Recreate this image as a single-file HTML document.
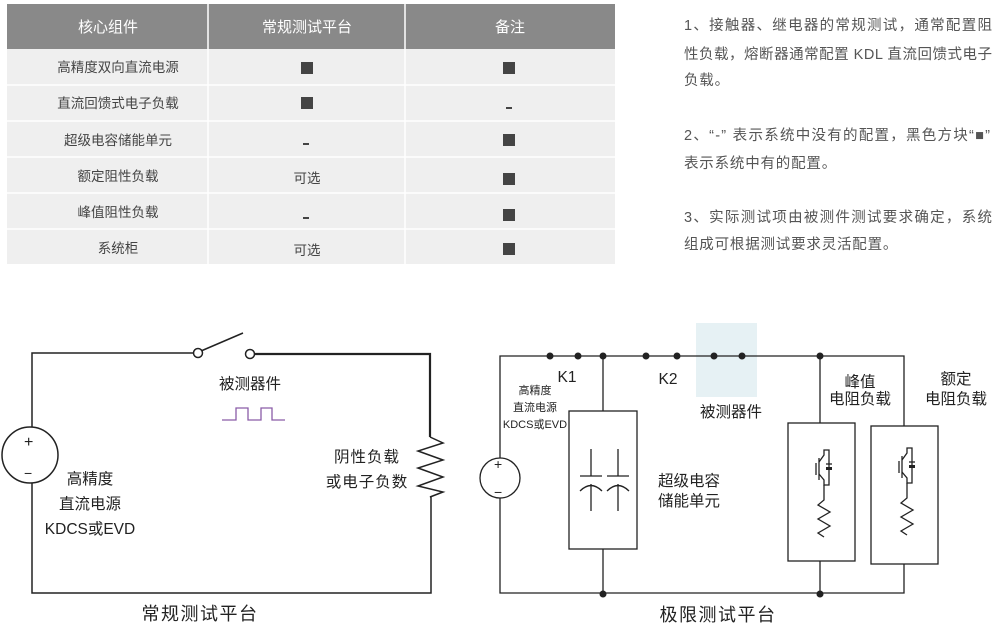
<!DOCTYPE html>
<html><head><meta charset="utf-8"><style>
body{margin:0;background:#fff;width:1000px;height:636px;overflow:hidden;font-family:"Liberation Sans","Noto Sans CJK SC",sans-serif;}
</style></head><body>
<svg width="1000" height="636" xmlns="http://www.w3.org/2000/svg" font-family="Liberation Sans, Noto Sans CJK SC, sans-serif">
<!-- table -->
<rect x="7" y="4" width="608" height="45" fill="#898989"/>
<rect x="7" y="49" width="608" height="215" fill="#efefef"/>
<g stroke="#fff" stroke-width="1.5">
<line x1="208" y1="4" x2="208" y2="264"/><line x1="405" y1="4" x2="405" y2="264"/>
<line x1="7" y1="85" x2="615" y2="85"/><line x1="7" y1="121" x2="615" y2="121"/><line x1="7" y1="157" x2="615" y2="157"/><line x1="7" y1="193" x2="615" y2="193"/><line x1="7" y1="229" x2="615" y2="229"/>
</g>
<g font-size="15" fill="#fff" text-anchor="middle"><text x="108" y="32">核心组件</text><text x="307" y="32">常规测试平台</text><text x="510" y="32">备注</text></g>
<g font-size="13.5" fill="#444" text-anchor="middle">
<text x="118" y="72">高精度双向直流电源</text><text x="118" y="108">直流回馈式电子负载</text><text x="118" y="145">超级电容储能单元</text><text x="118" y="181">额定阻性负载</text><text x="118" y="217">峰值阻性负载</text><text x="118" y="253">系统柜</text>
<text x="307" y="183">可选</text><text x="307" y="255">可选</text>
</g>
<g fill="#444"><rect x="303" y="143" width="6" height="2"/><rect x="303" y="217" width="6" height="2"/><rect x="506" y="107" width="6" height="2"/></g>
<g fill="#444"><rect x="301" y="62" width="12" height="12"/><rect x="301" y="97" width="12" height="12"/><rect x="503" y="62" width="12" height="12"/><rect x="503" y="134" width="12" height="12"/><rect x="503" y="173" width="12" height="12"/><rect x="503" y="209" width="12" height="12"/><rect x="503" y="243" width="12" height="12"/></g>
<!-- notes -->
<g font-size="14.5" fill="#555" letter-spacing="0.8">
<text x="684" y="30" textLength="308" lengthAdjust="spacing" letter-spacing="0">1、接触器、继电器的常规测试，通常配置阻</text>
<text x="684" y="59" textLength="308" lengthAdjust="spacing" letter-spacing="0">性负载，熔断器通常配置 KDL 直流回馈式电子</text>
<text x="684" y="85">负载。</text>
<text x="684" y="140" textLength="306" lengthAdjust="spacing" letter-spacing="0">2、“-” 表示系统中没有的配置，黑色方块“■”</text>
<text x="684" y="168">表示系统中有的配置。</text>
<text x="684" y="222" textLength="308" lengthAdjust="spacing" letter-spacing="0">3、实际测试项由被测件测试要求确定，系统</text>
<text x="684" y="249">组成可根据测试要求灵活配置。</text>
</g>
<!-- left circuit -->
<g stroke="#222" stroke-width="1.5" fill="none">
<polyline points="32,427 32,353 194,353"/>
<line x1="201" y1="351" x2="243" y2="333"/>
<polyline points="254,354 430,354 430,437" stroke-width="2.2"/>
<polyline points="430,437 443,443 418,451 443,460 418,468 443,477 418,486 443,492 430,497 431,497 431,593 32,593 32,483"/>
<circle cx="30" cy="455" r="28"/>
<circle cx="198" cy="353" r="4.5" fill="#fff"/><circle cx="250" cy="354" r="4.5" fill="#fff"/>
</g>
<polyline points="222,420 236,420 236,408 248,408 248,420 261,420 261,408 272,408 272,420 285,420" stroke="#8a5ca8" stroke-width="1.3" fill="none"/>
<g fill="#222" font-size="16"><text x="24" y="447">+</text><text x="24" y="478" font-size="14">−</text></g>
<g font-size="15.5" fill="#222" text-anchor="middle">
<text x="250" y="389">被测器件</text>
<text x="90" y="484">高精度</text><text x="90" y="509">直流电源</text><text x="90" y="534">KDCS或EVD</text>
<text x="367" y="462" letter-spacing="1">阴性负载</text><text x="367" y="487" letter-spacing="1">或电子负数</text>
<text x="200" y="620" font-size="18" letter-spacing="1.5">常规测试平台</text>
</g>
<!-- right circuit -->
<rect x="696" y="323" width="61" height="74" fill="#e6f1f4"/>
<g stroke="#222" stroke-width="1.3" fill="none">
<polyline points="500,458 500,356 904,356 904,426"/>
<polyline points="500,498 500,593 904,593 904,564"/>
<line x1="603" y1="356" x2="603" y2="411"/><line x1="603" y1="549" x2="603" y2="593"/>
<line x1="820" y1="356" x2="820" y2="423"/><line x1="820" y1="561" x2="820" y2="593"/>
<rect x="569" y="411" width="68" height="138"/>
<rect x="788" y="423" width="67" height="138"/>
<rect x="871" y="426" width="67" height="138"/>
<circle cx="500" cy="478" r="20"/>
<line x1="591" y1="449" x2="591" y2="476"/><line x1="580" y1="476" x2="602" y2="476"/><path d="M580,491 Q591,480 602,491"/><line x1="591" y1="484" x2="591" y2="511"/>
<line x1="618" y1="449" x2="618" y2="476"/><line x1="607" y1="476" x2="629" y2="476"/><path d="M607,491 Q618,480 629,491"/><line x1="618" y1="484" x2="618" y2="511"/>
<g>
<line x1="816" y1="463" x2="816" y2="475"/><polyline points="819,458 819,480"/><polyline points="819,462 824,455 824,450 829,450 829,485 824,485 824,480 819,474"/>
<line x1="826" y1="464" x2="832" y2="464"/>
<polyline points="824,485 824,500 818,505 830,512 818,519 830,526 818,533 824,537"/>
</g>
<g transform="translate(83,-2)">
<line x1="816" y1="463" x2="816" y2="475"/><polyline points="819,458 819,480"/><polyline points="819,462 824,455 824,450 829,450 829,485 824,485 824,480 819,474"/>
<line x1="826" y1="464" x2="832" y2="464"/>
<polyline points="824,485 824,500 818,505 830,512 818,519 830,526 818,533 824,537"/>
</g>
</g>
<rect x="826" y="467" width="6" height="3" fill="#222"/><rect x="909" y="465" width="6" height="3" fill="#222"/>
<g fill="#222"><circle cx="550" cy="356" r="3.5"/><circle cx="578" cy="356" r="3.5"/><circle cx="603" cy="356" r="3.5"/><circle cx="646" cy="356" r="3.5"/><circle cx="677" cy="356" r="3.5"/><circle cx="714" cy="356" r="3.5"/><circle cx="742" cy="356" r="3.5"/><circle cx="820" cy="356" r="3.5"/><circle cx="603" cy="594" r="3.5"/><circle cx="820" cy="594" r="3.5"/></g>
<g fill="#222" font-size="14"><text x="494" y="469">+</text><text x="494" y="497">−</text></g>
<g font-size="15.5" fill="#222" text-anchor="middle">
<text x="567" y="382">K1</text><text x="668" y="384">K2</text>
<text x="731" y="417">被测器件</text>
<text x="689" y="486">超级电容</text><text x="689" y="506">储能单元</text>
<text x="860" y="387">峰值</text><text x="860" y="404">电阻负载</text>
<text x="956" y="384">额定</text><text x="956" y="404">电阻负载</text>
<text x="718" y="621" font-size="18" letter-spacing="1.5">极限测试平台</text>
</g>
<g font-size="11" fill="#222" text-anchor="middle"><text x="535" y="394">高精度</text><text x="535" y="411">直流电源</text><text x="535" y="428">KDCS或EVD</text></g>
</svg>
</body></html>
